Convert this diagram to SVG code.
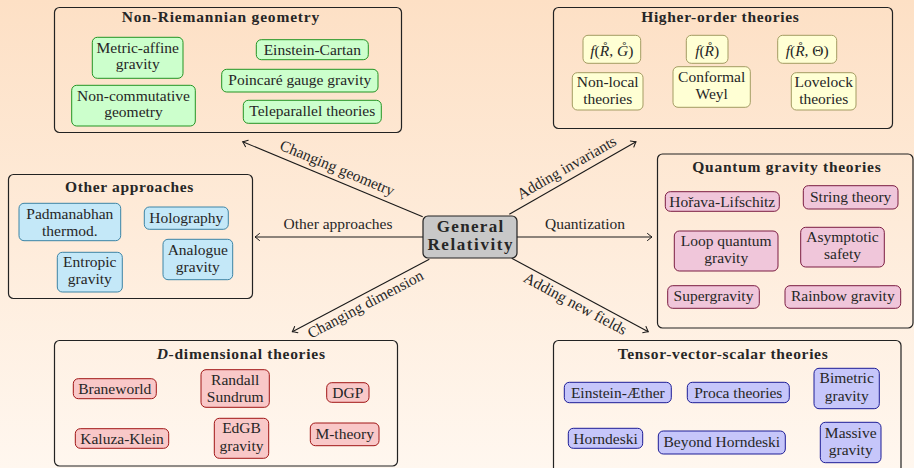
<svg xmlns="http://www.w3.org/2000/svg" width="914" height="468" viewBox="0 0 914 468">
<defs>
<linearGradient id="bg" x1="0" y1="0" x2="0" y2="1">
<stop offset="0" stop-color="#fde0c5"/>
<stop offset="1" stop-color="#fff7ef"/>
</linearGradient>
<marker id="arr" viewBox="-6 -5 8 10" markerWidth="8" markerHeight="10" refX="0" refY="0" orient="auto" markerUnits="userSpaceOnUse">
<path d="M-4.5,-3.5 Q-1.5,-1 0,0 Q-1.5,1 -4.5,3.5" fill="none" stroke="#1a1a1a" stroke-width="1" stroke-linecap="round"/>
</marker>
</defs>
<style>
text{font-family:"Liberation Serif","Times New Roman",serif;fill:#262626;font-size:15.5px;text-anchor:middle}
.t{font-weight:bold}
.c{font-weight:bold;font-size:17px}
.grp{fill:none;stroke:#222;stroke-width:1.2}
.n{stroke-width:1}
.g{fill:#ccffcc;stroke:#239423}
.y{fill:#ffffd4;stroke:#a39c62}
.b{fill:#c4e8f8;stroke:#3c84a6}
.p{fill:#f0c6da;stroke:#7b1c42}
.r{fill:#f9c8c8;stroke:#a01515}
.v{fill:#c6c6fa;stroke:#1c1c96}
.e{stroke:#1a1a1a;stroke-width:1.1;fill:none;marker-end:url(#arr)}
i{font-style:italic}
</style>
<rect width="914" height="468" fill="url(#bg)"/>

<g id="connectors">
<path class="e" d="M422.7,216.7 L242.7,141.7"/>
<path class="e" d="M509.3,214.3 L636,141.7"/>
<path class="e" d="M423,237 L255,237"/>
<path class="e" d="M517,237 L652,237"/>
<path class="e" d="M429.3,259.3 L292.3,331.7"/>
<path class="e" d="M511.7,258.3 L648.3,331.7"/>
<text transform="translate(332.7,179.2) rotate(22.6)" x="0" y="-7">Changing geometry</text>
<text transform="translate(572.7,178) rotate(-29.8)" x="0" y="-7">Adding invariants</text>
<text x="338" y="229">Other approaches</text>
<text x="585" y="229.3">Quantization</text>
<text transform="translate(360.8,295.5) rotate(-27.85)" x="0" y="15">Changing dimension</text>
<text transform="translate(580,295) rotate(28.3)" x="0" y="15">Adding new fields</text>
</g>

<g id="gr">
<rect x="423" y="216" width="94" height="42" rx="5" fill="#c8c8c8" stroke="#222" stroke-width="1.2"/>
<text class="c" x="470" y="232" textLength="66.7" lengthAdjust="spacing">General</text>
<text class="c" x="470" y="250" textLength="85" lengthAdjust="spacing">Relativity</text>
</g>

<g id="non-riemannian">
<rect class="grp" x="54.5" y="7.5" width="347" height="125" rx="5"/>
<text class="t" x="220.5" y="22" textLength="197.6" lengthAdjust="spacing">Non-Riemannian geometry</text>
<g id="metric-affine"><rect class="n g" x="92.3" y="37.3" width="90.7" height="41" rx="5"/><text x="137.7" y="53.3">Metric-affine</text><text x="137.7" y="68.8">gravity</text></g>
<g id="non-commutative"><rect class="n g" x="71.7" y="85.3" width="123.6" height="40.7" rx="5"/><text x="133.5" y="100.7">Non-commutative</text><text x="133.5" y="116.7">geometry</text></g>
<g id="einstein-cartan"><rect class="n g" x="256.3" y="39.7" width="112" height="20" rx="5"/><text x="312.3" y="55.3">Einstein-Cartan</text></g>
<g id="poincare"><rect class="n g" x="221.7" y="69.3" width="156.3" height="22.7" rx="5"/><text x="299.8" y="84.5">Poincaré gauge gravity</text></g>
<g id="teleparallel"><rect class="n g" x="243.3" y="100.3" width="138" height="23" rx="5"/><text x="312.3" y="115.9">Teleparallel theories</text></g>
</g>

<g id="higher-order">
<rect class="grp" x="553.5" y="7.5" width="339" height="121" rx="5"/>
<text class="t" x="720" y="22" textLength="157.7" lengthAdjust="spacing">Higher-order theories</text>
<g id="fRG"><rect class="n y" x="583" y="35.3" width="57.7" height="28" rx="5"/><text x="611.8" y="56"><tspan font-style="italic">f</tspan>(<tspan font-style="italic">R̊</tspan>, <tspan font-style="italic">G̊</tspan>)</text></g>
<g id="fR"><rect class="n y" x="686.3" y="35.3" width="41.7" height="28" rx="5"/><text x="707.2" y="56"><tspan font-style="italic">f</tspan>(<tspan font-style="italic">R̊</tspan>)</text></g>
<g id="fRT"><rect class="n y" x="777.7" y="35.3" width="59" height="28" rx="5"/><text x="807.2" y="56"><tspan font-style="italic">f</tspan>(<tspan font-style="italic">R̊</tspan>, Θ)</text></g>
<g id="non-local"><rect class="n y" x="572.3" y="72.7" width="70.7" height="37.3" rx="5"/><text x="607.7" y="87.3">Non-local</text><text x="607.7" y="104">theories</text></g>
<g id="conformal"><rect class="n y" x="673" y="66.7" width="77.3" height="40.6" rx="5"/><text x="711.7" y="82">Conformal</text><text x="711.7" y="99.3">Weyl</text></g>
<g id="lovelock"><rect class="n y" x="791.3" y="72.7" width="64.7" height="37.3" rx="5"/><text x="823.7" y="87.3">Lovelock</text><text x="823.7" y="104">theories</text></g>
</g>

<g id="other">
<rect class="grp" x="8.5" y="174.5" width="244" height="124" rx="5"/>
<text class="t" x="129.2" y="192.3" textLength="128.3" lengthAdjust="spacing">Other approaches</text>
<g id="padmanabhan"><rect class="n b" x="19" y="203.3" width="101.7" height="37.4" rx="5"/><text x="69.8" y="219">Padmanabhan</text><text x="69.8" y="236">thermod.</text></g>
<g id="holography"><rect class="n b" x="144.3" y="207" width="84" height="22.3" rx="5"/><text x="186.3" y="222.7">Holography</text></g>
<g id="entropic"><rect class="n b" x="57.3" y="252.3" width="65" height="39.7" rx="5"/><text x="89.8" y="267.3">Entropic</text><text x="89.8" y="284">gravity</text></g>
<g id="analogue"><rect class="n b" x="163" y="239.3" width="69.7" height="40.4" rx="5"/><text x="197.8" y="255">Analogue</text><text x="197.8" y="271.7">gravity</text></g>
</g>

<g id="quantum">
<rect class="grp" x="657.5" y="154" width="255.5" height="174" rx="5"/>
<text class="t" x="786.5" y="171.7" textLength="188.4" lengthAdjust="spacing">Quantum gravity theories</text>
<g id="horava"><rect class="n p" x="665.3" y="191.7" width="114" height="19.6" rx="5"/><text x="722.3" y="206.7">Hořava-Lifschitz</text></g>
<g id="string"><rect class="n p" x="803.3" y="185.7" width="94.7" height="23.3" rx="5"/><text x="850.7" y="201.7">String theory</text></g>
<g id="loop"><rect class="n p" x="674.3" y="231" width="103.7" height="40" rx="5"/><text x="726.2" y="246">Loop quantum</text><text x="726.2" y="263.3">gravity</text></g>
<g id="asymptotic"><rect class="n p" x="800.7" y="227.3" width="83.6" height="39.7" rx="5"/><text x="842.5" y="241.7">Asymptotic</text><text x="842.5" y="259.3">safety</text></g>
<g id="supergravity"><rect class="n p" x="667.7" y="285.7" width="91.6" height="22.6" rx="5"/><text x="713.5" y="301">Supergravity</text></g>
<g id="rainbow"><rect class="n p" x="785" y="285.7" width="115.7" height="22.6" rx="5"/><text x="842.8" y="301">Rainbow gravity</text></g>
</g>

<g id="d-dimensional">
<rect class="grp" x="54.5" y="340.5" width="343" height="125.5" rx="5"/>
<text class="t" x="240.8" y="359.3" textLength="168.3" lengthAdjust="spacing"><tspan font-style="italic">D</tspan>-dimensional theories</text>
<g id="braneworld"><rect class="n r" x="73.3" y="378.7" width="83" height="20" rx="5"/><text x="114.8" y="394.3">Braneworld</text></g>
<g id="randall"><rect class="n r" x="201" y="369.7" width="68.3" height="37.6" rx="5"/><text x="235.2" y="385">Randall</text><text x="235.2" y="402">Sundrum</text></g>
<g id="dgp"><rect class="n r" x="326.7" y="382.7" width="42.3" height="19.6" rx="5"/><text x="347.8" y="398">DGP</text></g>
<g id="kaluza"><rect class="n r" x="75.3" y="428.7" width="93.4" height="19.6" rx="5"/><text x="122" y="444">Kaluza-Klein</text></g>
<g id="edgb"><rect class="n r" x="214.3" y="418.3" width="54.4" height="40" rx="5"/><text x="241.5" y="433.3">EdGB</text><text x="241.5" y="450.7">gravity</text></g>
<g id="m-theory"><rect class="n r" x="310.3" y="423" width="68.7" height="22.7" rx="5"/><text x="344.7" y="439.3">M-theory</text></g>
</g>

<g id="tvs">
<rect class="grp" x="553.5" y="340.5" width="347.5" height="132" rx="5"/>
<text class="t" x="722.7" y="359.3" textLength="210" lengthAdjust="spacing">Tensor-vector-scalar theories</text>
<g id="aether"><rect class="n v" x="564.3" y="382.3" width="107" height="20.4" rx="5"/><text x="617.8" y="398">Einstein-Æther</text></g>
<g id="proca"><rect class="n v" x="687.3" y="382.3" width="102" height="20.4" rx="5"/><text x="738.3" y="398">Proca theories</text></g>
<g id="bimetric"><rect class="n v" x="814" y="368.3" width="65.3" height="40.4" rx="5"/><text x="846.7" y="383.3">Bimetric</text><text x="846.7" y="401">gravity</text></g>
<g id="horndeski"><rect class="n v" x="568.3" y="428.3" width="74.4" height="20" rx="5"/><text x="605.5" y="443.7">Horndeski</text></g>
<g id="beyond"><rect class="n v" x="658.3" y="431" width="127" height="23" rx="5"/><text x="721.8" y="446.5">Beyond Horndeski</text></g>
<g id="massive"><rect class="n v" x="820.3" y="422.3" width="60.7" height="40.4" rx="5"/><text x="850.7" y="437.7">Massive</text><text x="850.7" y="455">gravity</text></g>
</g>
</svg>
